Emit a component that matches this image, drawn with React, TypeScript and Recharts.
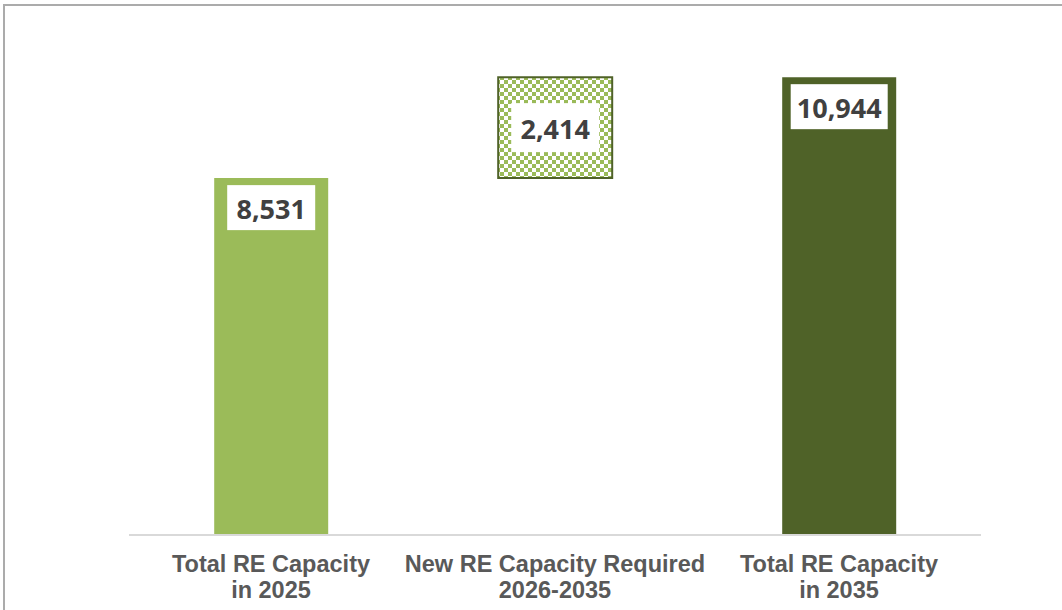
import { Bar, BarChart, Cell, LabelList, XAxis, YAxis } from 'recharts';

const CATEGORIES = [
  ['Total RE Capacity', 'in 2025'],
  ['New RE Capacity Required', '2026-2035'],
  ['Total RE Capacity', 'in 2035'],
];
const BASES = [0, 8531, 0];
const VALUES = [8531, 2414, 10944];
const FILLS = ['#9BBB59', 'url(#checker)', '#4F6228'];

const rows = CATEGORIES.map((c, i) => ({ key: i, base: BASES[i], value: VALUES[i] }));

function CategoryTick({ x, y, payload }: any) {
  const lines = CATEGORIES[payload.value] || [];
  return (
    <text x={x} y={y} textAnchor="middle" fill="#595959" fontFamily="Liberation Sans, Arial" fontWeight="bold" fontSize={23.5}>
      {lines.map((l, i) => (
        <tspan key={i} x={x} y={y + 29 + i * 26}>{l}</tspan>
      ))}
    </text>
  );
}

function ValueLabel({ x, y, width, height, value, index }: any) {
  const text = Number(value).toLocaleString('en-US');
  const w = text.length * 9 + 43;
  const h = index === 1 ? 49 : 45;
  const cx = x + width / 2;
  const top = index === 1 ? y + height / 2 - h / 2 : y + 7;
  return (
    <g>
      <rect x={cx - w / 2} y={top} width={w} height={h} fill="#FFFFFF" />
      <text x={cx} y={top + h / 2 + 1} textAnchor="middle" dominantBaseline="central" fill="#404040"
        fontFamily="Open Sans" fontWeight="bold" fontSize={27}>
        {text}
      </text>
    </g>
  );
}

export default function App() {
  return (
    <div style={{ position: 'absolute', left: 0, top: 0, width: 1062, height: 610, background: '#fff', overflow: 'hidden' }}>
      <div style={{ position: 'absolute', left: 3, top: 4, width: 1100, height: 700, borderTop: '2px solid #ABABAB', borderLeft: '2px solid #ABABAB' }} />
      <div style={{ position: 'absolute', left: 0, top: 0 }}>
        <BarChart width={1062} height={610} data={rows} margin={{ top: 33, right: 81, bottom: 0, left: 129 }} barCategoryGap="30%">
          <defs>
            <pattern id="checker" width={8} height={8} patternUnits="userSpaceOnUse">
              <rect width={8} height={8} fill="#FFFFFF" />
              <rect width={4} height={4} fill="#9BBB59" />
              <rect x={4} y={4} width={4} height={4} fill="#9BBB59" />
            </pattern>
          </defs>
          <XAxis dataKey="key" height={75} tickLine={false} axisLine={{ stroke: '#D9D9D9', strokeWidth: 2 }} tick={<CategoryTick />} interval={0} />
          <YAxis hide domain={[0, 12000]} />
          <Bar dataKey="base" stackId="w" fill="transparent" isAnimationActive={false} />
          <Bar dataKey="value" stackId="w" isAnimationActive={false}>
            {rows.map((r, i) => (
              <Cell key={r.key} fill={FILLS[i]} stroke={i === 1 ? '#4F6228' : 'none'} strokeWidth={i === 1 ? 2 : 0} />
            ))}
            <LabelList dataKey="value" content={<ValueLabel />} />
          </Bar>
        </BarChart>
      </div>
    </div>
  );
}
